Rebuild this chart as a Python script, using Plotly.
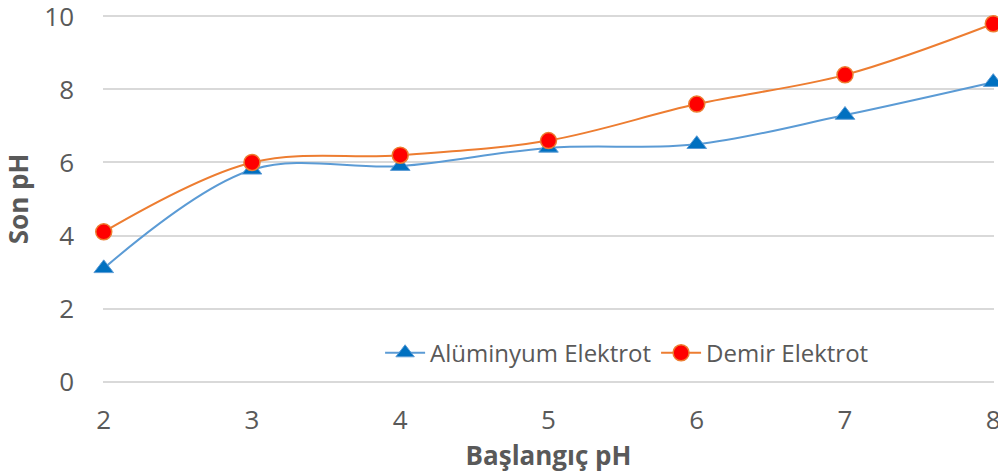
import plotly.graph_objects as go

baslangic_ph = [2, 3, 4, 5, 6, 7, 8]
aluminyum = [3.1, 5.8, 5.9, 6.4, 6.5, 7.3, 8.2]
demir = [4.1, 6.0, 6.2, 6.6, 7.6, 8.4, 9.8]
y_ticks = [0, 2, 4, 6, 8, 10]

font_family = "Open Sans"
gray = "#595959"

fig = go.Figure()
fig.add_trace(go.Scatter(
    x=baslangic_ph, y=aluminyum, name="Alüminyum Elektrot",
    mode="lines+markers", line=dict(color="#5B9BD5", width=2, shape="spline", smoothing=1),
    marker=dict(symbol="triangle-up", size=17, color="#0070C0", line=dict(color="#5B9BD5", width=1)),
    cliponaxis=False,
))
fig.add_trace(go.Scatter(
    x=baslangic_ph, y=demir, name="Demir Elektrot",
    mode="lines+markers", line=dict(color="#ED7D31", width=2, shape="spline", smoothing=1),
    marker=dict(symbol="circle", size=16, color="#FF0000", line=dict(color="#ED7D31", width=1.5)),
    cliponaxis=False,
))

fig.update_layout(
    width=998, height=474,
    margin=dict(l=103, r=4, t=14.5, b=90.5, autoexpand=False),
    paper_bgcolor="white", plot_bgcolor="white",
    font=dict(family=font_family, size=22, color=gray),
    showlegend=True,
    legend=dict(orientation="h", x=0.311, y=0.081, xanchor="left", yanchor="middle",
                bgcolor="rgba(255,255,255,0)", font=dict(size=24, color=gray),
                itemwidth=40, tracegroupgap=0),
    xaxis=dict(range=[1.995, 8.005], tickmode="array", tickvals=baslangic_ph,
               showgrid=False, zeroline=False, showline=False, ticks="",
               ticklabelstandoff=19, ticklabeloverflow="allow",
               title=dict(text="<b>Başlangıç pH</b>", font=dict(size=26, color=gray), standoff=3),
               tickfont=dict(size=26, color=gray)),
    yaxis=dict(range=[-0.04, 10.04], tickmode="array", tickvals=y_ticks,
               showgrid=True, gridcolor="#D9D9D9", gridwidth=1.5, zeroline=False, showline=False,
               ticks="", ticklabelstandoff=28, ticklabeloverflow="allow",
               title=dict(text="<b>Son pH</b>", font=dict(size=26, color=gray), standoff=10),
               tickfont=dict(size=26, color=gray)),
)

fig.write_html("out.html", config={"displayModeBar": False},
               post_script="document.body.style.margin='0';document.body.style.padding='0';")
